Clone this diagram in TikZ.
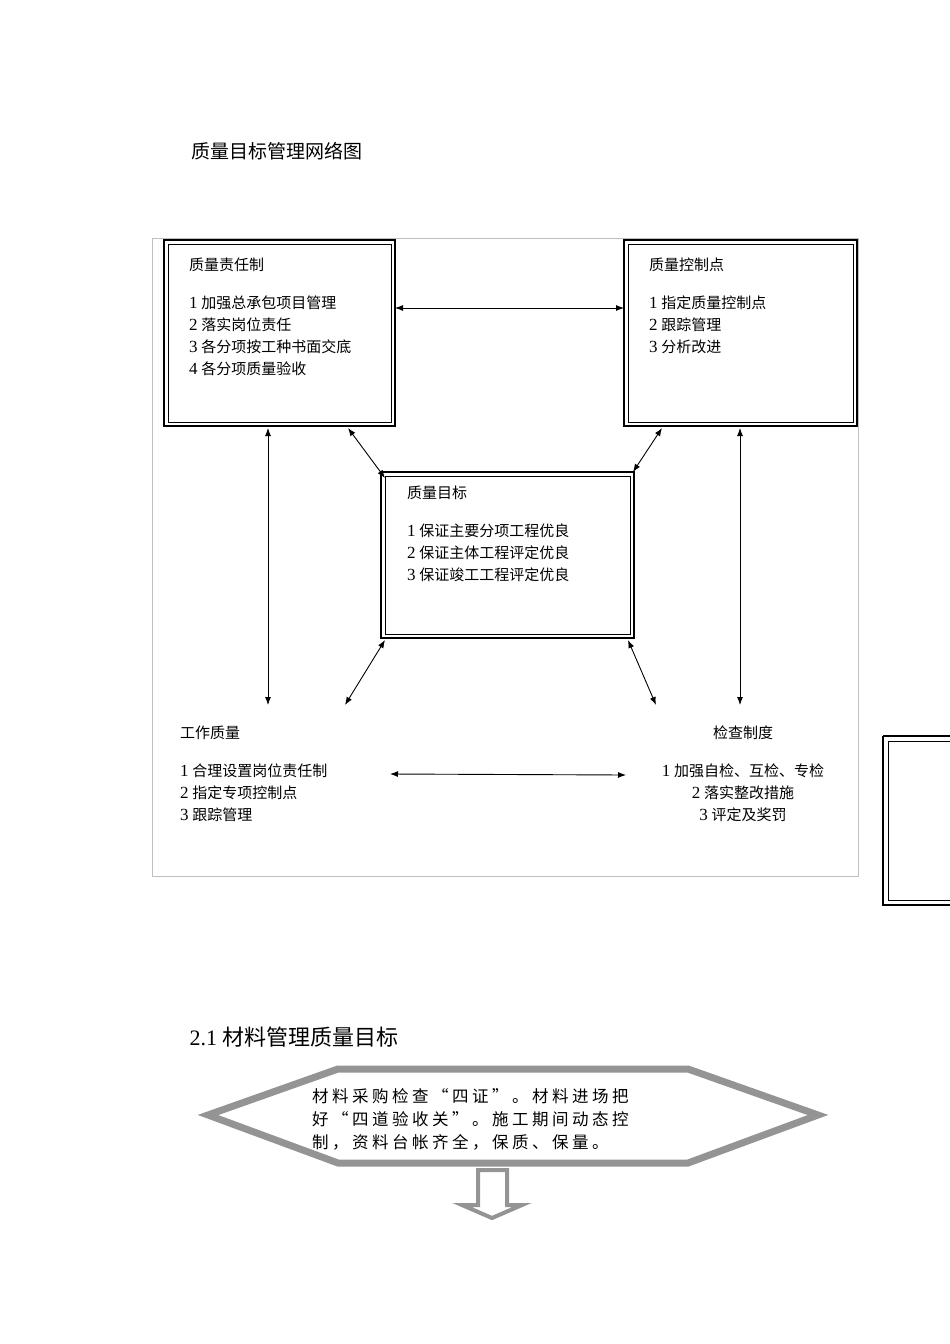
\documentclass[tikz,border=0pt]{standalone}
\usepackage{fontspec}
\usetikzlibrary{arrows.meta}
\setmainfont{Liberation Serif}
\newfontfamily\cjk{Noto Sans CJK SC}
\newcommand{\zh}[1]{{\cjk #1}}
\newcommand{\num}[1]{{\fontsize{17}{22}\selectfont #1}}
\def\spc#1{\ifx#1\relax\else\makebox[20pt][l]{#1}\expandafter\spc\fi}
\begin{document}
\begin{tikzpicture}[x=1pt,y=-1pt,
  tbox/.style={line width=2pt},
  arr/.style={{Latex[length=8pt,width=6pt]}-{Latex[length=8pt,width=6pt]},line width=0.9pt},
  txt/.style={anchor=north west,align=left,font=\fontsize{15}{22}\selectfont,inner sep=0pt}]
\useasboundingbox (0,0) rectangle (950,1344);
\node[anchor=west,font=\fontsize{19}{22}\selectfont\cjk] (title) at (188,151) {质量目标管理网络图};
\draw[gray!50,line width=0.6pt] (152,238) rectangle (858,876);
% boxes
\foreach \n/\a/\b/\c/\d in {A/164/240/395/426, B/624/240/857/426, C/381/472/634/638}{
  \draw[tbox] (\a,\b) rectangle (\c,\d);
  \draw[line width=0.8pt] (\a+4,\b+4) rectangle (\c-4,\d-4);
  \coordinate (\n) at (\a,\b);
}
\draw[line width=2pt] (883,736) -- (950,736);
\draw[line width=2pt] (883,736) -- (883,905) -- (950,905);
\draw[line width=0.8pt] (888,741) -- (950,741);
\draw[line width=0.8pt] (888,741) -- (888,900) -- (950,900);
\node[txt] (ta) at (189,258) {\zh{质量责任制}\\[16pt]\num1 \zh{加强总承包项目管理}\\\num2 \zh{落实岗位责任}\\\num3 \zh{各分项按工种书面交底}\\\num4 \zh{各分项质量验收}};
\node[txt] (tb) at (649,258) {\zh{质量控制点}\\[16pt]\num1 \zh{指定质量控制点}\\\num2 \zh{跟踪管理}\\\num3 \zh{分析改进}};
\node[txt] (tc) at (407,486) {\zh{质量目标}\\[16pt]\num1 \zh{保证主要分项工程优良}\\\num2 \zh{保证主体工程评定优良}\\\num3 \zh{保证竣工工程评定优良}};
\node[txt] (td) at (180,726) {\zh{工作质量}\\[16pt]\num1 \zh{合理设置岗位责任制}\\\num2 \zh{指定专项控制点}\\\num3 \zh{跟踪管理}};
\node[txt,align=center,anchor=north] (te) at (743,726) {\zh{检查制度}\\[16pt]\num1 \zh{加强自检、互检、专检}\\\num2 \zh{落实整改措施}\\\num3 \zh{评定及奖罚}};
% arrows
\coordinate (p1) at (395,308); \coordinate (p2) at (624,308);
\draw[arr] (p1) -- (p2);
\coordinate (q1) at (268,428); \coordinate (q2) at (268,705);
\draw[arr] (q1) -- (q2);
\coordinate (r1) at (740,428); \coordinate (r2) at (740,705);
\draw[arr] (r1) -- (r2);
\coordinate (s1) at (348,428); \coordinate (s2) at (385,478);
\draw[arr] (s1) -- (s2);
\coordinate (u1) at (662,428); \coordinate (u2) at (633,472);
\draw[arr] (u1) -- (u2);
\coordinate (v1) at (385,640); \coordinate (v2) at (345,705);
\draw[arr] (v1) -- (v2);
\coordinate (w1) at (628,640); \coordinate (w2) at (656,705);
\draw[arr] (w1) -- (w2);
\coordinate (x1) at (390,774); \coordinate (x2) at (626,775);
\draw[arr] (x1) -- (x2);
% section 2.1
\node[anchor=west,font=\fontsize{22}{24}\selectfont] (sec) at (186,1037) {2.1 \zh{材料管理质量目标}};
\draw[gray!80!black!70,line width=7pt,line join=miter] (208,1115) -- (338,1069) -- (688,1069) -- (818,1115) -- (688,1163) -- (338,1163) -- cycle;
\node[anchor=north west,align=left,inner sep=0pt,font=\fontsize{16.5}{23}\selectfont\cjk] (ht) at (312,1088) {\spc 材料采购检查“四证”。材料进场把\relax\\\spc 好“四道验收关”。施工期间动态控\relax\\\spc 制，资料台帐齐全，保质、保量。\relax};
\draw[gray!80!black!70,line width=4pt,line join=miter] (478,1170) -- (478,1205) -- (462,1205) -- (492,1218) -- (522,1205) -- (507,1205) -- (507,1170) -- cycle;
\end{tikzpicture}
\end{document}
